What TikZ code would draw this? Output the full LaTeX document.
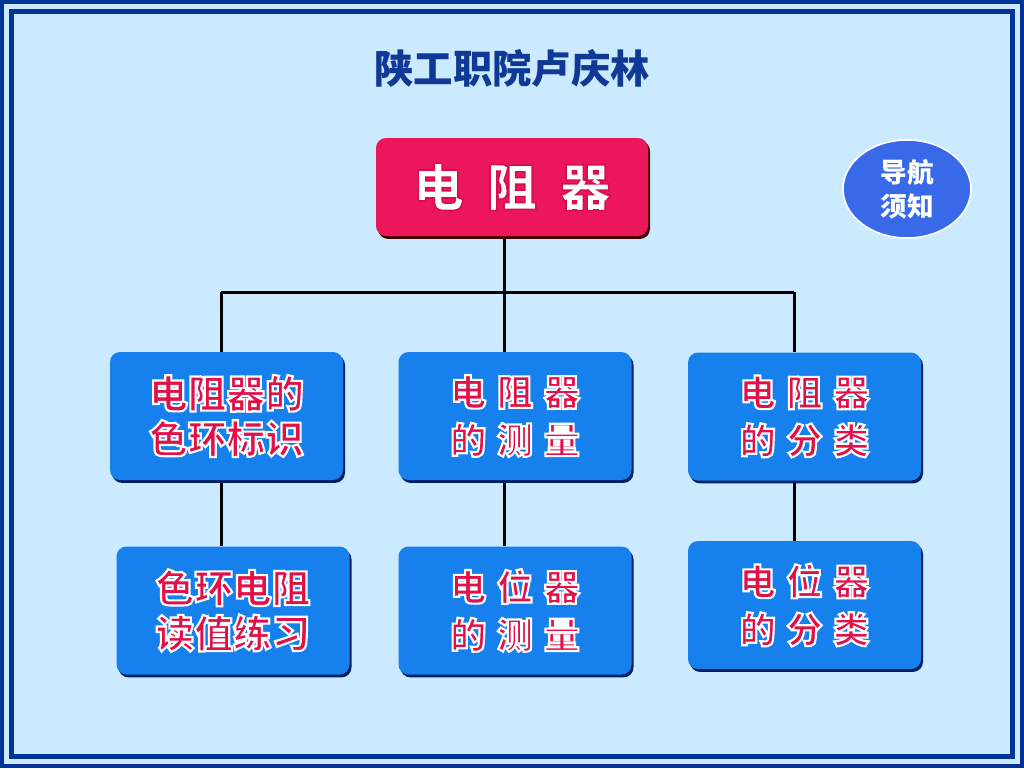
\documentclass[tikz,border=0pt]{standalone}
\usepackage{fontspec}
\setmainfont{Noto Sans CJK SC}
\usetikzlibrary{shapes.geometric,shadows}
\definecolor{frame}{RGB}{0,51,153}
\definecolor{pagebg}{RGB}{204,234,255}
\definecolor{boxblue}{RGB}{22,128,236}
\definecolor{boxshadow}{RGB}{0,32,96}
\definecolor{topred}{RGB}{236,22,90}
\definecolor{textred}{RGB}{226,16,72}
\definecolor{navblue}{RGB}{55,105,232}
\definecolor{titleblue}{RGB}{16,56,150}
\newcommand\outlined[3]{\special{pdf:literal direct 2 Tr #1 w #2 RG}#3\special{pdf:literal direct 0 Tr 0.4 w}}
\pgfdeclarelayer{bg}
\pgfdeclarelayer{lines}
\pgfsetlayers{bg,lines,main}
\begin{document}
\begin{tikzpicture}[x=0.75pt,y=-0.75pt,
  boxstyle/.style={rounded corners=7.5pt, fill=boxblue, minimum width=174.75pt,
    minimum height=96pt, inner sep=0pt, align=center, text=textred,
    font=\bfseries\fontsize{29}{34}\selectfont,
    drop shadow={shadow xshift=1.5pt, shadow yshift=-2.2pt, fill=boxshadow, opacity=1}},
  spaced/.style={font=\bfseries\fontsize{27}{36}\selectfont},
  topbox/.style={rounded corners=7.5pt, fill=topred, minimum width=204pt,
    minimum height=73.5pt, inner sep=0pt, text=white,
    font=\bfseries\fontsize{38}{40}\selectfont,
    drop shadow={shadow xshift=1.5pt, shadow yshift=-2.2pt, fill=black!75!red, opacity=1}},
  navstyle/.style={ellipse, fill=navblue, draw=white, line width=1.2pt,
    minimum width=96pt, minimum height=73.5pt, inner sep=0pt, align=center,
    text=white, font=\bfseries\fontsize{20}{25.5}\selectfont},
  titlestyle/.style={text=titleblue, font=\bfseries\fontsize{29.5}{32}\selectfont, inner sep=0pt},
  link/.style={line width=2.25pt, black}]
\useasboundingbox (0,0) rectangle (1024,768);
\begin{pgfonlayer}{bg}
\fill[frame] (0,0) rectangle (1024,768);
\fill[pagebg] (4,4) rectangle (1020,764);
\fill[frame] (9,9) rectangle (1015,759);
\fill[pagebg] (14,14) rectangle (1010,754);
\end{pgfonlayer}

\node[titlestyle] (title) at (512,68) {陕工职院卢庆林};
\node[topbox] (top) at (512,187) {\outlined{1.2}{0.85 0.05 0.3}{电\hspace{0.45em}阻\hspace{0.45em}器}};
\node[navstyle] (nav) at (907,189) {导航\\须知};

\node[boxstyle] (b1) at (226.5,416) {\outlined{1.6}{1 1 1}{电阻器的\\色环标识}};
\node[boxstyle,spaced] (b2) at (515,416) {\outlined{1.6}{1 1 1}{电\hspace{0.3em}阻\hspace{0.3em}器\\的\hspace{0.3em}测\hspace{0.3em}量}};
\node[boxstyle,spaced] (b3) at (804.5,416.5) {\outlined{1.6}{1 1 1}{电\hspace{0.3em}阻\hspace{0.3em}器\\的\hspace{0.3em}分\hspace{0.3em}类}};
\node[boxstyle] (b4) at (233,610.5) {\outlined{1.6}{1 1 1}{色环电阻\\读值练习}};
\node[boxstyle,spaced] (b5) at (515,610.5) {\outlined{1.6}{1 1 1}{电\hspace{0.3em}位\hspace{0.3em}器\\的\hspace{0.3em}测\hspace{0.3em}量}};
\node[boxstyle,spaced] (b6) at (804.5,605) {\outlined{1.6}{1 1 1}{电\hspace{0.3em}位\hspace{0.3em}器\\的\hspace{0.3em}分\hspace{0.3em}类}};

\coordinate (jl) at (221,292);
\coordinate (jm) at (504,292);
\coordinate (jr) at (794,292);
\begin{pgfonlayer}{lines}
\draw[link] (top.south -| jm) -- (jm);
\draw[link] (jl) -- (jr);
\draw[link] (jl) -- (b1.north -| jl);
\draw[link] (jm) -- (b2.north -| jm);
\draw[link] (jr) -- (b3.north -| jr);
\draw[link] (b1.south -| jl) -- (b4.north -| jl);
\draw[link] (b2.south -| jm) -- (b5.north -| jm);
\draw[link] (b3.south -| jr) -- (b6.north -| jr);
\end{pgfonlayer}
\end{tikzpicture}
\end{document}
